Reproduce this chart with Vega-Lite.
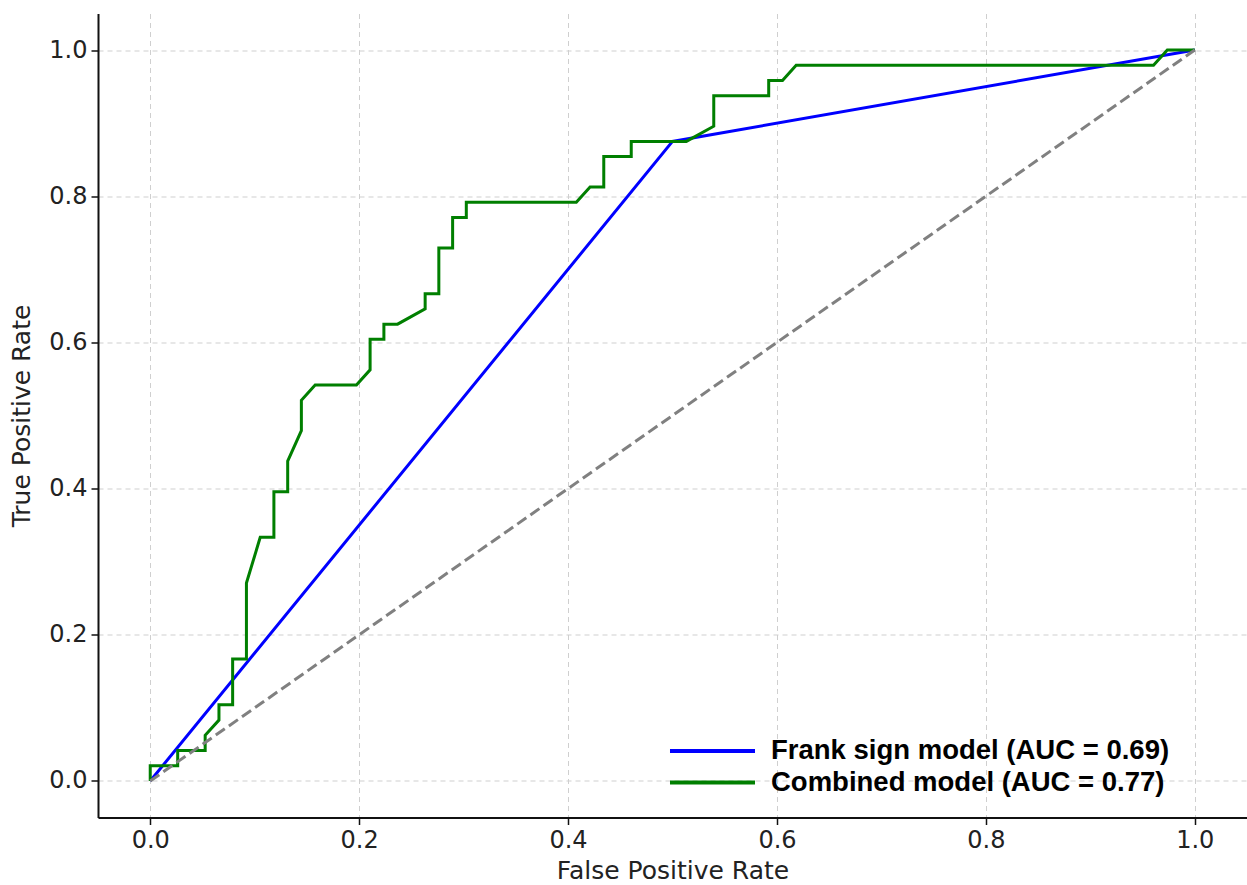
{
  "$schema": "https://vega.github.io/schema/vega-lite/v6.json",
  "width": 1149,
  "height": 804,
  "autosize": {"type": "none"},
  "padding": {"left": 98, "top": 13.5, "right": 0, "bottom": 67.5},
  "background": "white",
  "config": {
    "view": {"stroke": null},
    "axis": {
      "labelFont": "DejaVu Sans",
      "labelFontSize": 24,
      "labelColor": "#222222",
      "titleFont": "DejaVu Sans",
      "titleFontSize": 25,
      "titleFontWeight": "normal",
      "titleColor": "#222222",
      "domainColor": "#111111",
      "domainWidth": 2,
      "tickColor": "#111111",
      "tickWidth": 1.5,
      "tickSize": 7,
      "labelPadding": 4,
      "grid": true,
      "gridColor": "#cfcfcf",
      "gridDash": [5, 4],
      "gridWidth": 1
    }
  },
  "datasets": {
    "roc": [
      {"model": "Frank sign model (AUC = 0.69)", "step": 0, "fpr": 0.0, "tpr": 0.0},
      {"model": "Frank sign model (AUC = 0.69)", "step": 1, "fpr": 0.5, "tpr": 0.875},
      {"model": "Frank sign model (AUC = 0.69)", "step": 2, "fpr": 1.0, "tpr": 1.0},
      {"model": "Combined model (AUC = 0.77)", "step": 0, "fpr": 0.0, "tpr": 0.0},
      {"model": "Combined model (AUC = 0.77)", "step": 1, "fpr": 0.0, "tpr": 0.0208},
      {"model": "Combined model (AUC = 0.77)", "step": 2, "fpr": 0.0263, "tpr": 0.0208},
      {"model": "Combined model (AUC = 0.77)", "step": 3, "fpr": 0.0263, "tpr": 0.0417},
      {"model": "Combined model (AUC = 0.77)", "step": 4, "fpr": 0.0526, "tpr": 0.0417},
      {"model": "Combined model (AUC = 0.77)", "step": 5, "fpr": 0.0526, "tpr": 0.0625},
      {"model": "Combined model (AUC = 0.77)", "step": 6, "fpr": 0.0658, "tpr": 0.0833},
      {"model": "Combined model (AUC = 0.77)", "step": 7, "fpr": 0.0658, "tpr": 0.1042},
      {"model": "Combined model (AUC = 0.77)", "step": 8, "fpr": 0.0789, "tpr": 0.1042},
      {"model": "Combined model (AUC = 0.77)", "step": 9, "fpr": 0.0789, "tpr": 0.1667},
      {"model": "Combined model (AUC = 0.77)", "step": 10, "fpr": 0.0921, "tpr": 0.1667},
      {"model": "Combined model (AUC = 0.77)", "step": 11, "fpr": 0.0921, "tpr": 0.2708},
      {"model": "Combined model (AUC = 0.77)", "step": 12, "fpr": 0.1053, "tpr": 0.3333},
      {"model": "Combined model (AUC = 0.77)", "step": 13, "fpr": 0.1184, "tpr": 0.3333},
      {"model": "Combined model (AUC = 0.77)", "step": 14, "fpr": 0.1184, "tpr": 0.3958},
      {"model": "Combined model (AUC = 0.77)", "step": 15, "fpr": 0.1316, "tpr": 0.3958},
      {"model": "Combined model (AUC = 0.77)", "step": 16, "fpr": 0.1316, "tpr": 0.4375},
      {"model": "Combined model (AUC = 0.77)", "step": 17, "fpr": 0.1447, "tpr": 0.4792},
      {"model": "Combined model (AUC = 0.77)", "step": 18, "fpr": 0.1447, "tpr": 0.5208},
      {"model": "Combined model (AUC = 0.77)", "step": 19, "fpr": 0.1579, "tpr": 0.5417},
      {"model": "Combined model (AUC = 0.77)", "step": 20, "fpr": 0.1974, "tpr": 0.5417},
      {"model": "Combined model (AUC = 0.77)", "step": 21, "fpr": 0.2105, "tpr": 0.5625},
      {"model": "Combined model (AUC = 0.77)", "step": 22, "fpr": 0.2105, "tpr": 0.6042},
      {"model": "Combined model (AUC = 0.77)", "step": 23, "fpr": 0.2237, "tpr": 0.6042},
      {"model": "Combined model (AUC = 0.77)", "step": 24, "fpr": 0.2237, "tpr": 0.625},
      {"model": "Combined model (AUC = 0.77)", "step": 25, "fpr": 0.2368, "tpr": 0.625},
      {"model": "Combined model (AUC = 0.77)", "step": 26, "fpr": 0.2632, "tpr": 0.6458},
      {"model": "Combined model (AUC = 0.77)", "step": 27, "fpr": 0.2632, "tpr": 0.6667},
      {"model": "Combined model (AUC = 0.77)", "step": 28, "fpr": 0.2763, "tpr": 0.6667},
      {"model": "Combined model (AUC = 0.77)", "step": 29, "fpr": 0.2763, "tpr": 0.7292},
      {"model": "Combined model (AUC = 0.77)", "step": 30, "fpr": 0.2895, "tpr": 0.7292},
      {"model": "Combined model (AUC = 0.77)", "step": 31, "fpr": 0.2895, "tpr": 0.7708},
      {"model": "Combined model (AUC = 0.77)", "step": 32, "fpr": 0.3026, "tpr": 0.7708},
      {"model": "Combined model (AUC = 0.77)", "step": 33, "fpr": 0.3026, "tpr": 0.7917},
      {"model": "Combined model (AUC = 0.77)", "step": 34, "fpr": 0.4079, "tpr": 0.7917},
      {"model": "Combined model (AUC = 0.77)", "step": 35, "fpr": 0.4211, "tpr": 0.8125},
      {"model": "Combined model (AUC = 0.77)", "step": 36, "fpr": 0.4342, "tpr": 0.8125},
      {"model": "Combined model (AUC = 0.77)", "step": 37, "fpr": 0.4342, "tpr": 0.8542},
      {"model": "Combined model (AUC = 0.77)", "step": 38, "fpr": 0.4605, "tpr": 0.8542},
      {"model": "Combined model (AUC = 0.77)", "step": 39, "fpr": 0.4605, "tpr": 0.875},
      {"model": "Combined model (AUC = 0.77)", "step": 40, "fpr": 0.5132, "tpr": 0.875},
      {"model": "Combined model (AUC = 0.77)", "step": 41, "fpr": 0.5395, "tpr": 0.8958},
      {"model": "Combined model (AUC = 0.77)", "step": 42, "fpr": 0.5395, "tpr": 0.9375},
      {"model": "Combined model (AUC = 0.77)", "step": 43, "fpr": 0.5921, "tpr": 0.9375},
      {"model": "Combined model (AUC = 0.77)", "step": 44, "fpr": 0.5921, "tpr": 0.9583},
      {"model": "Combined model (AUC = 0.77)", "step": 45, "fpr": 0.6053, "tpr": 0.9583},
      {"model": "Combined model (AUC = 0.77)", "step": 46, "fpr": 0.6184, "tpr": 0.9792},
      {"model": "Combined model (AUC = 0.77)", "step": 47, "fpr": 0.9605, "tpr": 0.9792},
      {"model": "Combined model (AUC = 0.77)", "step": 48, "fpr": 0.9737, "tpr": 1.0},
      {"model": "Combined model (AUC = 0.77)", "step": 49, "fpr": 1.0, "tpr": 1.0}
    ],
    "chance": [
      {"fpr": 0.0, "tpr": 0.0},
      {"fpr": 1.0, "tpr": 1.0}
    ]
  },
  "layer": [
    {
      "data": {"name": "roc"},
      "mark": {"type": "line", "strokeWidth": 3, "clip": false},
      "encoding": {
        "x": {
          "field": "fpr",
          "type": "quantitative",
          "scale": {"domain": [-0.05, 1.05], "nice": false, "zero": false},
          "axis": {
            "title": "False Positive Rate",
            "values": [0, 0.2, 0.4, 0.6, 0.8, 1.0],
            "format": ".1f",
            "titlePadding": 6
          }
        },
        "y": {
          "field": "tpr",
          "type": "quantitative",
          "scale": {"domain": [-0.05, 1.05], "nice": false, "zero": false},
          "axis": {
            "title": "True Positive Rate",
            "values": [0, 0.2, 0.4, 0.6, 0.8, 1.0],
            "format": ".1f",
            "titlePadding": 14
          }
        },
        "order": {"field": "step", "type": "quantitative"},
        "color": {
          "field": "model",
          "type": "nominal",
          "sort": ["Frank sign model (AUC = 0.69)", "Combined model (AUC = 0.77)"],
          "scale": {
            "domain": ["Frank sign model (AUC = 0.69)", "Combined model (AUC = 0.77)"],
            "range": ["#0000ff", "#007f00"]
          },
          "legend": {
            "title": null,
            "orient": "none",
            "legendX": 594,
            "legendY": 717,
            "padding": 4,
            "symbolType": "M-3,0H3",
            "symbolSize": 803,
            "symbolStrokeWidth": 4,
            "labelFont": "Liberation Sans",
            "labelFontWeight": "bold",
            "labelFontSize": 27.5,
            "labelColor": "#000000",
            "labelOffset": 42,
            "labelLimit": 600,
            "rowPadding": 1.5
          }
        }
      }
    },
    {
      "data": {"name": "chance"},
      "mark": {"type": "line", "color": "#808080", "strokeWidth": 3, "strokeDash": [11, 5]},
      "encoding": {
        "x": {"field": "fpr", "type": "quantitative"},
        "y": {"field": "tpr", "type": "quantitative"}
      }
    }
  ]
}
